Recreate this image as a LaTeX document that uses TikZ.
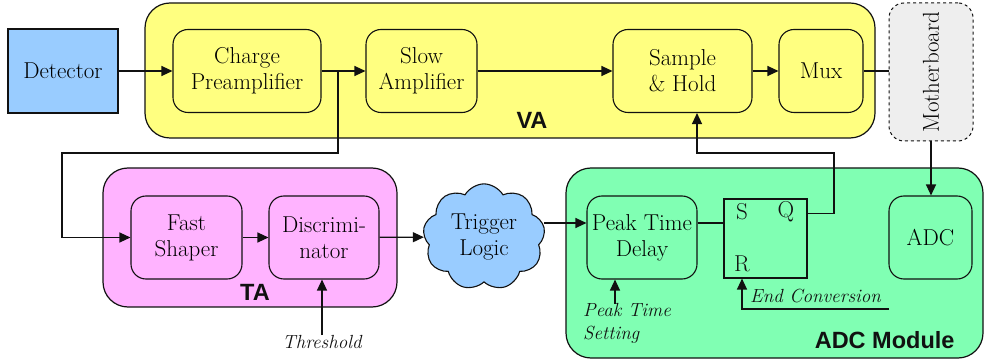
\documentclass[tikz,border=0pt]{standalone}
\usepackage{fontspec}
\setsansfont{Liberation Sans}
\usetikzlibrary{arrows.meta,shapes.symbols}
\definecolor{ink}{HTML}{111111}
\definecolor{detblue}{HTML}{99CCFF}
\definecolor{vafill}{HTML}{FFFF80}
\definecolor{tafill}{HTML}{FFB3FF}
\definecolor{adcfill}{HTML}{80FFB3}
\definecolor{mbfill}{HTML}{EEEEEE}
\newcommand{\blkfont}{\fontsize{23}{26}\selectfont\rmfamily}
\newcommand{\notefont}{\fontsize{19}{23}\selectfont\rmfamily\itshape}
\newcommand{\grpfont}{\fontsize{23.5}{26}\selectfont\sffamily\bfseries}
\tikzset{
  grp/.style={draw=ink, line width=1.2pt, rounded corners=25pt, inner sep=0pt},
  blk/.style={draw=ink, line width=1.1pt, rounded corners=15pt, minimum width=#1,
    minimum height=83pt, inner sep=0pt, align=center, font=\blkfont},
  arr/.style={-{Triangle[length=11pt,width=10pt]}, draw=ink, line width=1.2pt},
  wire/.style={draw=ink, line width=1.2pt},
  grplab/.style={text=ink, font=\grpfont},
  note/.style={text=ink, font=\notefont, inner sep=0pt},
  pin/.style={text=ink, font=\blkfont, inner sep=0pt}
}
\begin{document}
\begin{tikzpicture}[x=1pt,y=-1pt]
  \useasboundingbox (0,0) rectangle (985,363);

  % group boxes
  \node[grp, fill=vafill, minimum width=730pt, minimum height=135pt] (va) at (510,70.5) {};
  \node[grp, fill=tafill, minimum width=294pt, minimum height=139pt] (ta) at (250,237.5) {};
  \node[grp, fill=adcfill, minimum width=417pt, minimum height=190pt] (adcm) at (774.5,263) {};
  \node[grplab] (valab) at (532,120) {VA};
  \node[grplab] (talab) at (255,292) {TA};
  \node[grplab, anchor=east] (adcmlab) at (958,340) {ADC Module};

  \node[draw=ink, line width=1.1pt, fill=detblue, minimum width=110pt, minimum height=84pt,
    inner sep=0pt, font=\blkfont] (det) at (63,71) {Detector};
  \node[blk=148pt, fill=vafill] (charge) at (247,71) {Charge\\Preamplifier};
  \node[blk=111pt, fill=vafill] (slow) at (421.5,71) {Slow\\Amplifier};
  \node[blk=139pt, fill=vafill] (sh) at (682.5,71) {Sample\\\& Hold};
  \node[blk=84pt, fill=vafill] (mux) at (821,71) {Mux};
  \node[draw=ink, dashed, line width=1pt, fill=mbfill, rounded corners=15pt, minimum width=84pt,
    minimum height=138pt, inner sep=0pt] (mb) at (931,72) {};
  \node[rotate=90, font=\blkfont] (mbtext) at (mb) {Motherboard};

  \node[blk=111pt, fill=tafill] (fast) at (186.5,237.5) {Fast\\Shaper};
  \node[blk=110pt, fill=tafill] (disc) at (324,237.5) {Discrimi-\\nator};
  \node[cloud, cloud puffs=9, cloud puff arc=120, draw=ink, line width=1.1pt, fill=detblue,
    minimum width=122pt, minimum height=103pt, inner sep=0pt, align=center,
    font=\blkfont] (trig) at (484,237) {Trigger\\Logic};

  \node[blk=110pt, fill=adcfill] (ptd) at (642,237.5) {Peak Time\\Delay};
  \node[draw=ink, line width=1.1pt, minimum width=83pt, minimum height=79pt, inner sep=0pt] (sr) at (765.5,238.5) {};
  \node[pin] (pinS) at (742,212) {S};
  \node[pin] (pinQ) at (786,212) {Q};
  \node[pin] (pinR) at (742,264) {R};
  \node[blk=83pt, fill=adcfill] (adc) at (930.5,237.5) {ADC};

  \node[note] (thr) at (322,342) {Threshold};
  \node[note, anchor=west] (endc) at (750,296) {End Conversion};
  \node[note, anchor=north west, align=left] (pts) at (583,303) {Peak Time\\Setting};

  % signal path
  \coordinate (split) at (338,71);
  \coordinate (bendA) at (62,153);
  \coordinate (qbend) at (834,153);
  \coordinate (ecin) at (889,309);
  \coordinate (ptsin) at (615,304);

  \draw[arr] (det) -- (charge);
  \draw[arr] (charge) -- (slow);
  \draw[arr] (slow) -- (sh);
  \draw[arr] (sh) -- (mux);
  \draw[wire] (mux.east) -- (mux.east -| mb.west);
  \draw[arr] (mb.south) -- (mb.south |- adc.north);
  \draw[arr] (split) |- (bendA) |- (fast.west);
  \draw[arr] (fast) -- (disc);
  \draw[arr] (disc) -- (trig);
  \draw[arr] ([yshift=14pt]trig.east) -- ([yshift=14pt]trig.east -| ptd.west);
  \draw[wire] ([yshift=14.5pt]ptd.east) -- ([yshift=14.5pt]ptd.east -| sr.west);
  \draw[arr] ([yshift=25pt]sr.east) -| (qbend) -| ([xshift=14.5pt]sh.south);
  \draw[arr] (ecin) -| ([xshift=-23.5pt]sr.south);
  \draw[arr] (ptsin) -- (ptsin |- ptd.south);
  \draw[arr] (thr.north) -- (thr.north |- disc.south);
\end{tikzpicture}
\end{document}
